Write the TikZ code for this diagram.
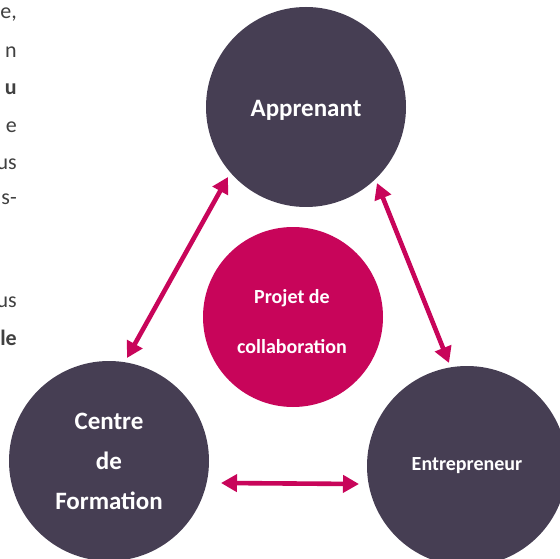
\documentclass[tikz,border=0pt]{standalone}
\usepackage{fontspec}
\setmainfont{Carlito}
\usetikzlibrary{arrows.meta}
\definecolor{darkc}{HTML}{463E53}
\definecolor{pinkc}{HTML}{C8055A}
\definecolor{textc}{HTML}{404040}
\begin{document}
\begin{tikzpicture}[x=1pt,y=-1pt,
  bigc/.style={circle,fill=darkc,draw=none,minimum size=200pt,inner sep=0pt,text=white,font=\bfseries\fontsize{25}{40}\selectfont,align=center},
  midc/.style={circle,fill=pinkc,draw=none,minimum size=180pt,inner sep=0pt},
  dbl/.style={line width=4.6pt,draw=pinkc,{Triangle[length=16pt,width=17pt]}-{Triangle[length=16pt,width=17pt]}},
  frag/.style={anchor=east,text=textc,font=\fontsize{22}{26}\selectfont,inner sep=0pt},
  fragb/.style={frag,font=\bfseries\fontsize{22}{26}\selectfont}]
\useasboundingbox (0,0) rectangle (560,559);
\fill[white] (0,0) rectangle (560,559);
% left paragraph fragments
\node[frag] (l1) at (17,15) {e,};
\node[frag] (l2) at (17,52) {n};
\node[fragb] (l3) at (17,89) {u};
\node[frag] (l4) at (17,127) {e};
\node[frag] (l5) at (17,164) {us};
\node[frag] (l6) at (17,199) {s-};
\node[frag] (l7) at (17,302) {us};
\node[fragb] (l8) at (17,338) {le};
% circles
\node[bigc] (app) at (306,107) {};
\node[text=white,font=\bfseries\fontsize{25}{30}\selectfont] (appt) at (306,110) {Apprenant};
\node[bigc] (cdf) at (109,461) {Centre\\de\\Formation};
\node[bigc,font=\bfseries\fontsize{20}{24}\selectfont] (ent) at (467,466) {Entrepreneur};
\node[midc] (pc) at (293,317) {};
\node[text=white,font=\bfseries\fontsize{20}{50}\selectfont,align=center] (pct) at (292,322) {Projet de\\collaboration};
% arrows
\coordinate (a1) at (228,177);
\coordinate (b1) at (127,358);
\coordinate (a2) at (377,183);
\coordinate (b2) at (449,363);
\coordinate (a3) at (221,483);
\coordinate (b3) at (359,484);
\draw[dbl] (a1) -- (b1);
\draw[dbl] (a2) -- (b2);
\draw[dbl] (a3) -- (b3);
\end{tikzpicture}
\end{document}
